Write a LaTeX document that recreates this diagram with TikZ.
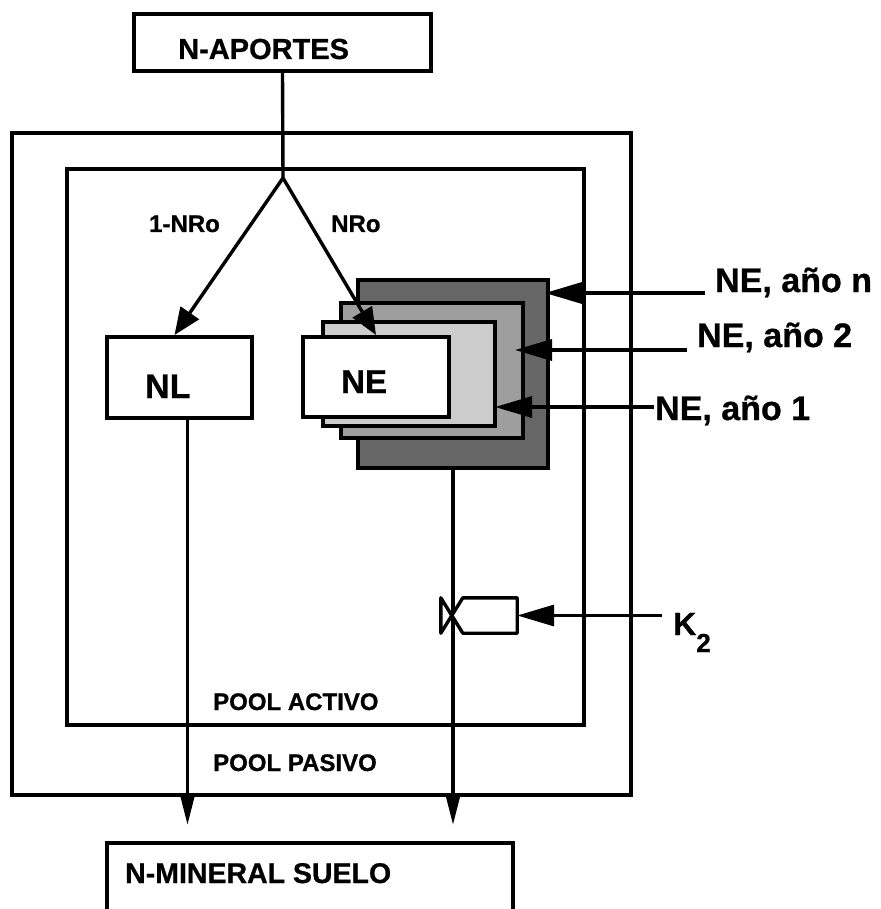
\documentclass[tikz,border=0pt]{standalone}
\usepackage{fontspec}
\setmainfont{Liberation Sans}[BoldFeatures={FakeBold=0.8}]
\usetikzlibrary{arrows.meta}

\begin{document}
\begin{tikzpicture}[
  x=1pt, y=-1pt,
  box/.style={draw, line width=4pt, inner sep=0pt},
  lbl/.style={inner sep=0pt, anchor=base west, font=\bfseries\fontsize{#1}{#1}\selectfont},
  lbl/.default=24,
  arrow/.style={line width=3.4pt, -{Triangle[length=37pt, width=21pt]}},
  splitarrow/.style={line width=3.4pt, -{Triangle[length=27pt, width=22pt]}},
  outarrow/.style={line width=3.4pt, -{Triangle[length=30pt, width=14pt]}}
]
\clip (0,0) rectangle (880,909);

% pools
\node[box, minimum width=619pt, minimum height=662pt] (pasivo) at (321.5,464) {};
\node[box, minimum width=517pt, minimum height=556pt] (activo) at (325.5,447) {};
\node[lbl] (tactivo) at (213,710) {POOL ACTIVO};
\node[lbl] (tpasivo) at (213,771) {POOL PASIVO};

% inputs and outputs
\node[box, minimum width=297pt, minimum height=57pt] (apt) at (282.5,42.5) {};
\node[lbl=29] (tapt) at (178,59) {N-APORTES};
\node[box, minimum width=406pt, minimum height=98pt] (mineral) at (310,892) {};
\node[lbl=28.5] (tmineral) at (125,883) {N-MINERAL SUELO};

% NL and the stack of NE boxes
\node[box, minimum width=145pt, minimum height=81pt] (nl) at (179.5,377.5) {};
\node[lbl=34] (tnl) at (145,398) {NL};
\node[box, fill=black!60, minimum width=190pt, minimum height=188pt] (ne3) at (453,374) {};
\node[box, fill=black!38, minimum width=182pt, minimum height=135pt] (ne2) at (432,370.5) {};
\node[box, fill=black!20, minimum width=172pt, minimum height=104pt] (ne1) at (409,374) {};
\node[box, fill=white, minimum width=146pt, minimum height=80pt] (ne) at (376,377) {};
\node[lbl=33] (tne) at (341,393) {NE};

% split
\coordinate (fork) at (283,178);
\draw[line width=3.4pt] (apt.south) -- (fork);
\draw[splitarrow] (fork) -- ([xshift=-5pt]nl.north);
\draw[splitarrow] (fork) -- (ne.north);
\node[lbl] (t1nro) at (149,232) {1-NRo};
\node[lbl] (tnro) at (331,232) {NRo};

% NE by year
\node[lbl=34] (lbn) at (715,292) {NE, año n};
\node[lbl=34] (lb2) at (697,347) {NE, año 2};
\node[lbl=34] (lb1) at (655,420) {NE, año 1};
\coordinate (inn) at (705,293);
\coordinate (in2) at (687,350);
\coordinate (in1) at (654,407);
\draw[arrow, shorten >=-5pt] (inn) -- (inn -| ne3.east);
\draw[arrow, shorten >=-10pt] (in2) -- (in2 -| ne2.east);
\draw[arrow, shorten >=-2pt] (in1) -- (in1 -| ne1.east);

% outflows
\draw[outarrow, shorten >=16pt] ([xshift=8pt]nl.south) -- ([xshift=8pt]nl.south |- mineral.north);
\draw[outarrow, shorten >=16pt] (ne3.south) -- (ne3.south |- mineral.north);

% rate valve
\node[minimum width=54pt, minimum height=35pt, inner sep=0pt] (vbox) at (490,615.5) {};
\draw[line width=3.4pt, line join=round, fill=white]
  (vbox.north west) -- (vbox.north east) -- (vbox.south east) -- (vbox.south west)
  -- ([xshift=-22pt]vbox.north west) -- ([xshift=-22pt]vbox.south west) -- cycle;
\node[lbl=32] (k2) at (673,635) {K\raisebox{-17pt}{\fontsize{26}{26}\selectfont 2}};
\draw[arrow, shorten <=11pt] (vbox.east -| k2.west) -- (vbox.east);
\end{tikzpicture}
\end{document}
